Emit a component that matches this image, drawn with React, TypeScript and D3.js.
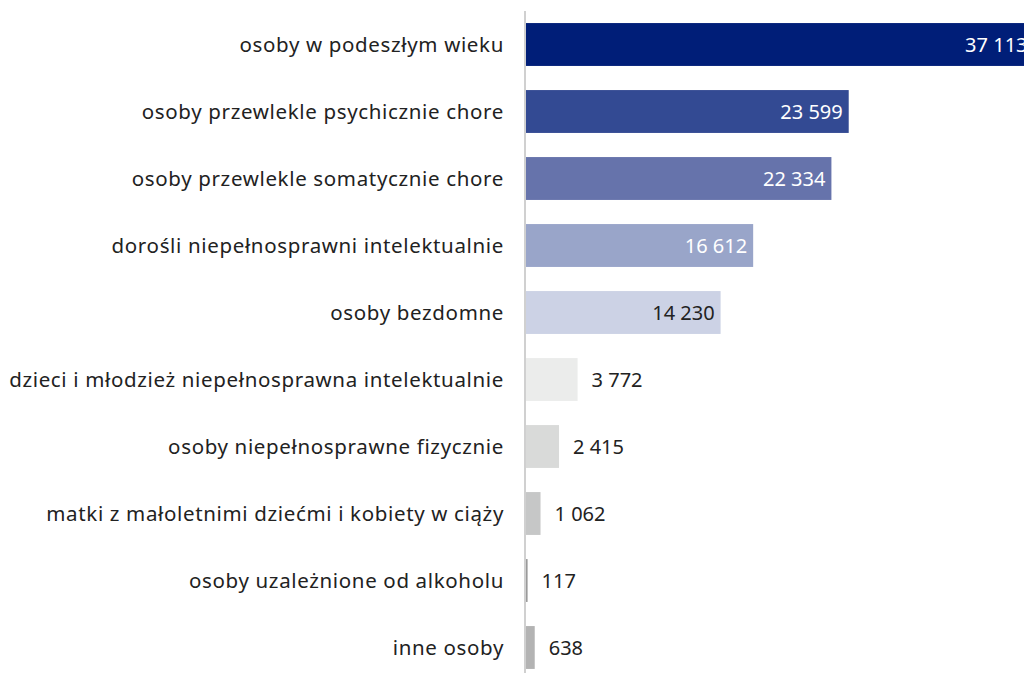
import * as d3 from "d3";
import { useEffect, useRef } from "react";

const categories = [
  "osoby w podeszłym wieku",
  "osoby przewlekle psychicznie chore",
  "osoby przewlekle somatycznie chore",
  "dorośli niepełnosprawni intelektualnie",
  "osoby bezdomne",
  "dzieci i młodzież niepełnosprawna intelektualnie",
  "osoby niepełnosprawne fizycznie",
  "matki z małoletnimi dziećmi i kobiety w ciąży",
  "osoby uzależnione od alkoholu",
  "inne osoby",
];
const values = [37113, 23599, 22334, 16612, 14230, 3772, 2415, 1062, 117, 638];
const barColors = [
  "#001e78",
  "#334a93",
  "#6673ab",
  "#99a5c9",
  "#ccd2e5",
  "#ebeceb",
  "#d9dad9",
  "#c6c7c7",
  "#9a9a9a",
  "#b3b3b3",
];

export default function App() {
  const ref = useRef<SVGSVGElement | null>(null);

  useEffect(() => {
    const svg = d3.select(ref.current);
    svg.selectAll("*").remove();

    const width = 1024;
    const height = 673;
    const font = "'Noto Sans', sans-serif";

    const x = d3.scaleLinear().domain([0, 40000]).range([526, 526 + 547]);
    const y = d3
      .scaleBand<string>()
      .domain(categories)
      .range([11, 681])
      .paddingInner(0.36)
      .paddingOuter(0.18);

    svg.attr("width", width).attr("height", height);

    const data = categories.map((c, i) => ({ label: c, value: values[i], color: barColors[i] }));

    svg
      .selectAll("rect.bar")
      .data(data)
      .enter()
      .append("rect")
      .attr("class", "bar")
      .attr("x", x(0))
      .attr("y", (d) => y(d.label)!)
      .attr("width", (d) => Math.max(1.5, x(d.value) - x(0)))
      .attr("height", y.bandwidth())
      .attr("fill", (d) => d.color);

    // axis line
    svg
      .append("line")
      .attr("x1", x(0) - 1)
      .attr("x2", x(0) - 1)
      .attr("y1", 11)
      .attr("y2", 681)
      .attr("stroke", "#d0d0d0")
      .attr("stroke-width", 2);

    // category labels
    svg
      .selectAll("text.cat")
      .data(data)
      .enter()
      .append("text")
      .attr("class", "cat")
      .attr("x", 504)
      .attr("y", (d) => y(d.label)! + y.bandwidth() / 2)
      .attr("dy", "0.35em")
      .attr("text-anchor", "end")
      .attr("fill", "#222")
      .style("font-family", font)
      .style("font-size", "20.5px")
      .style("letter-spacing", "0.65px")
      .text((d) => d.label);

    // value labels
    const fmt = (v: number) => d3.format(",")(v).replace(/,/g, " ");
    svg
      .selectAll("text.val")
      .data(data)
      .enter()
      .append("text")
      .attr("class", "val")
      .attr("x", (d, i) => (i < 5 ? x(d.value) - 6 : x(d.value) + 14))
      .attr("y", (d) => y(d.label)! + y.bandwidth() / 2)
      .attr("dy", "0.35em")
      .attr("text-anchor", (d, i) => (i < 5 ? "end" : "start"))
      .attr("fill", (d, i) => (i < 4 ? "#fff" : "#222"))
      .style("font-family", font)
      .style("font-size", "20px")
      .text((d) => fmt(d.value));
  }, []);

  return (
    <div style={{ position: "absolute", left: 0, top: 0, width: 1024, height: 673, overflow: "hidden", background: "#fff" }}>
      <svg ref={ref}></svg>
    </div>
  );
}
